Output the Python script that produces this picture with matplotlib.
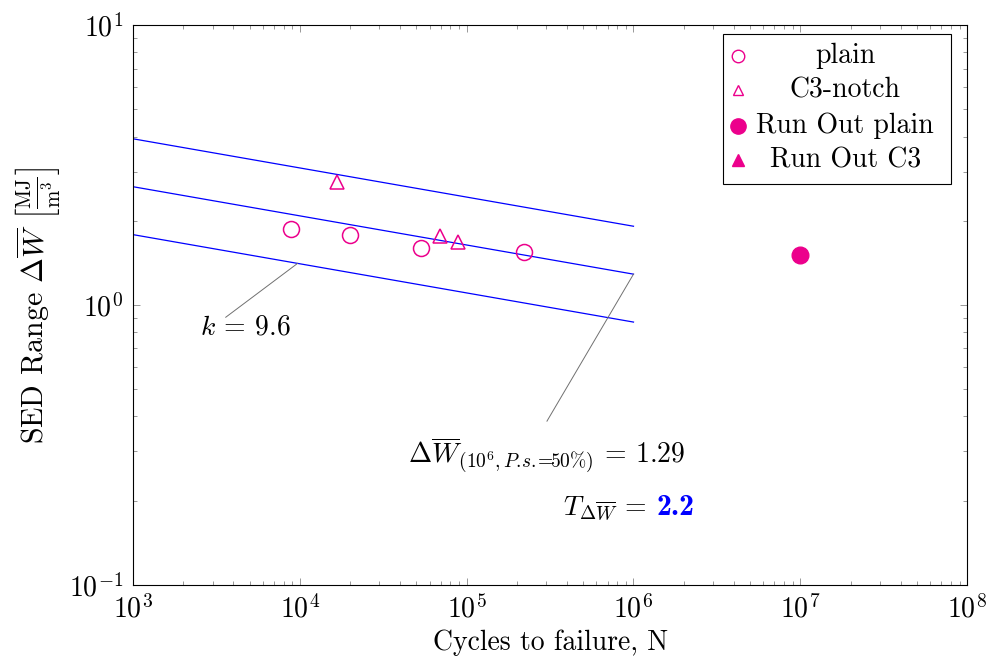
import numpy as np
import matplotlib
matplotlib.use('Agg')
import matplotlib.pyplot as plt
from matplotlib.lines import Line2D
from matplotlib.patches import Rectangle

plt.rcParams['font.family'] = 'serif'
plt.rcParams['font.serif'] = ['cmr10']
plt.rcParams['mathtext.fontset'] = 'cm'
plt.rcParams['axes.formatter.use_mathtext'] = True
plt.rcParams['font.size'] = 20

# test data
plain_N = [8.9e3, 2.0e4, 5.3e4, 2.2e5]
plain_W = [1.87, 1.78, 1.60, 1.55]
c3_N = [1.68e4, 6.9e4, 8.9e4]
c3_W = [2.75, 1.77, 1.68]
runout_plain_N = [1.0e7]
runout_plain_W = [1.51]
runout_c3_N = []
runout_c3_W = []

# fitted curve parameters
k = 9.6
W_ref = 1.29      # at N_ref, P.s. = 50%
N_ref = 1e6
T_W = 2.2
N_fit = [1e3, 1e6]

pink = '#ec008c'
blue = '#0000ff'
fs = 20

fig, ax = plt.subplots(figsize=(9.92, 6.64), dpi=100)
fig.subplots_adjust(left=0.134, right=0.975, top=0.962, bottom=0.119)

ax.set_xscale('log')
ax.set_yscale('log')
ax.set_xlim(1e3, 1e8)
ax.set_ylim(0.1, 10)

# scatter band: median curve and the 10%/90% bounds
N_line = np.array(N_fit)
for f in [np.sqrt(T_W), 1.0, 1 / np.sqrt(T_W)]:
    W_line = W_ref * f * (N_line / N_ref) ** (-1 / k)
    ax.plot(N_line, W_line, color=blue, lw=0.9)

ax.plot(plain_N, plain_W, 'o', ms=11.5, mfc='none', mec=pink, mew=1.1, ls='none')
ax.plot(c3_N, c3_W, '^', ms=10, mfc='none', mec=pink, mew=1.1, ls='none')
ax.plot(runout_plain_N, runout_plain_W, 'o', ms=12, color=pink, ls='none')
ax.plot(runout_c3_N, runout_c3_W, '^', ms=10, color=pink, ls='none')

# annotations
N_k = 9.7e3
W_k = W_ref / np.sqrt(T_W) * (N_k / N_ref) ** (-1 / k)
ax.plot([N_k, 3.6e3], [W_k, 0.905], color='#707070', lw=0.7)
ax.text(4.7e3, 0.785, r'$k$ = 9.6', ha='center', va='baseline', fontsize=fs)

ax.plot([N_ref, 3.03e5], [W_ref, 0.385], color='#707070', lw=0.7)
ax.text(3.0e5, 0.273, r'$\Delta\overline{W}_{(10^6,P.\!s.\!\!=\!\!50\%)}$ = 1.29',
        ha='center', va='baseline', fontsize=fs)
ax.text(1.2e6, 0.178, r'$T_{\Delta\overline{W}}$ =', ha='right', va='baseline', fontsize=fs)
ax.text(1.37e6, 0.178, '2.2', ha='left', va='baseline', fontsize=21.5,
        family='cmb10', color=blue)

# legend box with centred labels
lx0, lx1, ly0, ly1 = 0.7074, 0.981, 0.716, 0.984
ax.add_patch(Rectangle((lx0, ly0), lx1 - lx0, ly1 - ly0, transform=ax.transAxes,
                       fill=True, fc='white', ec='black', lw=0.8, zorder=5))
entries = [
    ('plain', dict(marker='o', ms=9, mfc='none', mec=pink, mew=1.0)),
    ('C3-notch', dict(marker='^', ms=7, mfc='none', mec=pink, mew=1.0)),
    ('Run Out plain', dict(marker='o', ms=11, color=pink)),
    ('Run Out C3', dict(marker='^', ms=8, color=pink)),
]
rows = [0.9446, 0.884, 0.8196, 0.7589]
for (lab, st), yy in zip(entries, rows):
    ax.add_line(Line2D([0.7254], [yy], transform=ax.transAxes, ls='none', zorder=6, **st))
    ax.text(0.8537, yy, lab, transform=ax.transAxes, ha='center', va='center',
            fontsize=fs, zorder=6)

ax.tick_params(which='both', direction='in', top=True, right=True, color='#888888')
ax.tick_params(which='major', length=5, width=0.6, labelsize=fs, pad=7)
ax.tick_params(which='minor', length=3, width=0.6)
for s in ax.spines.values():
    s.set_linewidth(0.8)

ax.set_xlabel('Cycles to failure, N', fontsize=fs, labelpad=4)
ax.set_ylabel(r'SED Range $\Delta\overline{W}$ $\left[\frac{\mathrm{MJ}}{\mathrm{m}^3}\right]$',
              fontsize=21.5, labelpad=5)

fig.savefig('out.png', dpi=100)
